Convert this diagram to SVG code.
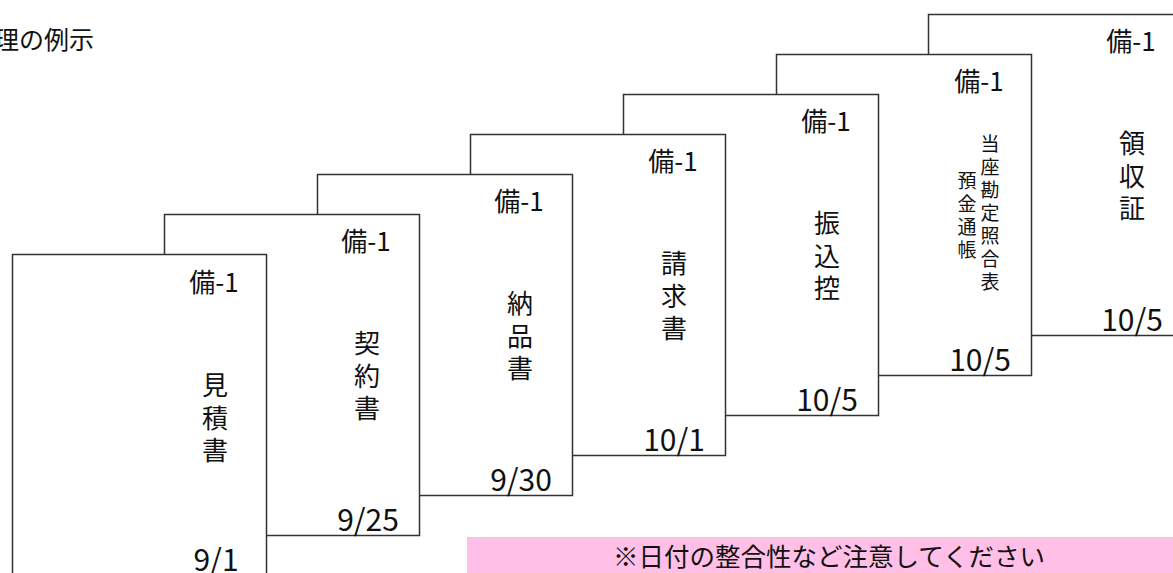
<svg xmlns="http://www.w3.org/2000/svg" width="1173" height="573" viewBox="0 0 1173 573">
<style>
.card{fill:#fff;stroke:#333;stroke-width:1.5}
text{font-family:"Noto Sans CJK JP","Noto Sans",sans-serif;fill:#111}
.tag{font-size:26px;text-anchor:middle}
.v{font-size:26px;text-anchor:middle}
.vs{font-size:19px;text-anchor:middle}
.date{font-size:30px;text-anchor:middle}
.title{font-size:25px;text-anchor:end}
.note{font-size:25.5px;text-anchor:middle}
</style>
<rect width="1173" height="573" fill="#fff"/>
<text class="title" x="94" y="49">理の例示</text>

<g id="card7">
<rect class="card" x="928.5" y="14.5" width="255" height="321"/>
<text class="tag" x="1131" y="51">備-1</text>
<text class="v"><tspan x="1132" y="153">領</tspan><tspan x="1132" y="185.5">収</tspan><tspan x="1132" y="218">証</tspan></text>
<text class="date" x="1132" y="331">10/5</text>
</g>
<g id="card6">
<rect class="card" x="776.5" y="54.5" width="255" height="321"/>
<text class="tag" x="979" y="91">備-1</text>
<text class="vs"><tspan x="990" y="151">当</tspan><tspan x="990" y="174">座</tspan><tspan x="990" y="197">勘</tspan><tspan x="990" y="220">定</tspan><tspan x="990" y="243">照</tspan><tspan x="990" y="266">合</tspan><tspan x="990" y="289">表</tspan></text>
<text class="vs"><tspan x="967" y="188">預</tspan><tspan x="967" y="211">金</tspan><tspan x="967" y="234">通</tspan><tspan x="967" y="257">帳</tspan></text>
<text class="date" x="980" y="371">10/5</text>
</g>
<g id="card5">
<rect class="card" x="623.5" y="94.5" width="255" height="321"/>
<text class="tag" x="826" y="131">備-1</text>
<text class="v"><tspan x="827" y="233">振</tspan><tspan x="827" y="265.5">込</tspan><tspan x="827" y="298">控</tspan></text>
<text class="date" x="827" y="411">10/5</text>
</g>
<g id="card4">
<rect class="card" x="470.5" y="134.5" width="255" height="321"/>
<text class="tag" x="673" y="171">備-1</text>
<text class="v"><tspan x="674" y="273">請</tspan><tspan x="674" y="305.5">求</tspan><tspan x="674" y="338">書</tspan></text>
<text class="date" x="674" y="451">10/1</text>
</g>
<g id="card3">
<rect class="card" x="317.5" y="174.5" width="255" height="321"/>
<text class="tag" x="519" y="211">備-1</text>
<text class="v"><tspan x="520" y="313">納</tspan><tspan x="520" y="345.5">品</tspan><tspan x="520" y="378">書</tspan></text>
<text class="date" x="521" y="491">9/30</text>
</g>
<g id="card2">
<rect class="card" x="164.5" y="214.5" width="255" height="321"/>
<text class="tag" x="366" y="251">備-1</text>
<text class="v"><tspan x="367" y="353">契</tspan><tspan x="367" y="385.5">約</tspan><tspan x="367" y="418">書</tspan></text>
<text class="date" x="368" y="531">9/25</text>
</g>
<g id="card1">
<rect class="card" x="12.5" y="254.5" width="254" height="321"/>
<text class="tag" x="214" y="292">備-1</text>
<text class="v"><tspan x="215" y="395">見</tspan><tspan x="215" y="427.5">積</tspan><tspan x="215" y="460">書</tspan></text>
<text class="date" x="216" y="571">9/1</text>
</g>
<g id="note">
<rect x="467" y="537" width="720" height="50" fill="#FFBFE6"/>
<text class="note" x="829" y="566">※日付の整合性など注意してください</text>
</g>
<g id="connectors"/>
</svg>
